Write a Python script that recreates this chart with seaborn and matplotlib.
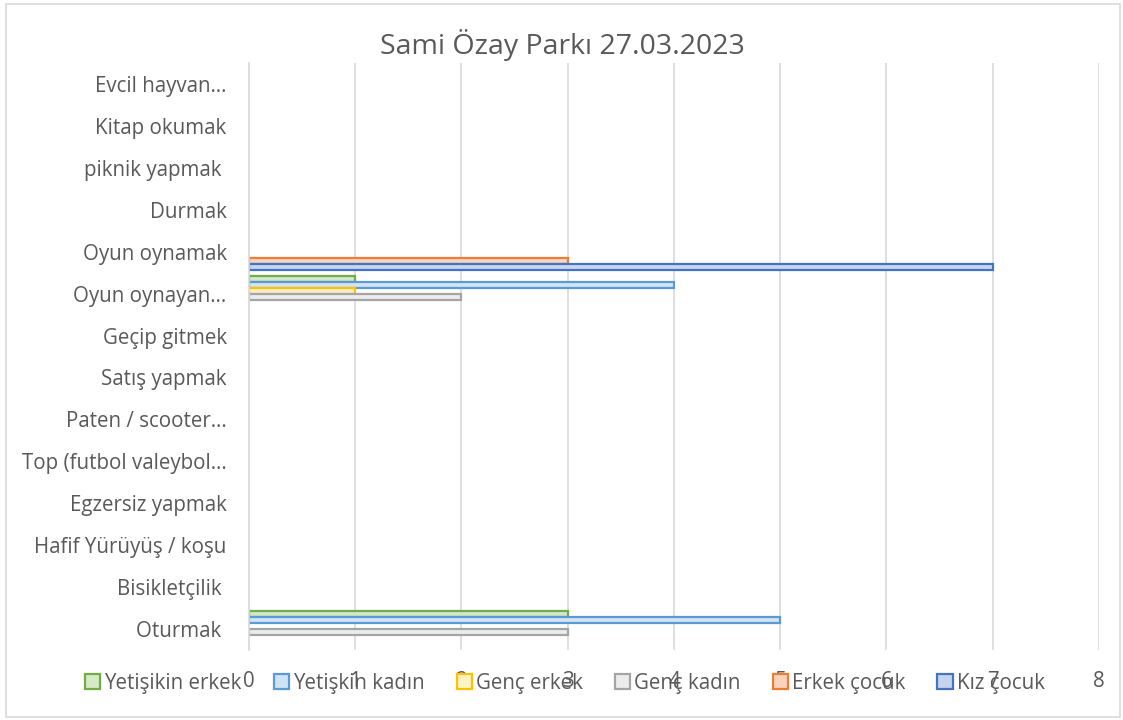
import pandas as pd
import seaborn as sns
import matplotlib.pyplot as plt
from matplotlib.patches import Patch, Rectangle

# data (top to bottom as shown on the chart)
categories = [
    "Evcil hayvan…",
    "Kitap okumak",
    "piknik yapmak ",
    "Durmak",
    "Oyun oynamak",
    "Oyun oynayan…",
    "Geçip gitmek",
    "Satış yapmak",
    "Paten / scooter…",
    "Top (futbol valeybol…",
    "Egzersiz yapmak",
    "Hafif Yürüyüş / koşu",
    "Bisikletçilik ",
    "Oturmak ",
]
groups = ["Yetişikin erkek", "Yetişkin kadın", "Genç erkek", "Genç kadın", "Erkek çocuk", "Kız çocuk"]

yetiskin_erkek = [0, 0, 0, 0, 0, 1, 0, 0, 0, 0, 0, 0, 0, 3]
yetiskin_kadin = [0, 0, 0, 0, 0, 4, 0, 0, 0, 0, 0, 0, 0, 5]
genc_erkek = [0, 0, 0, 0, 0, 1, 0, 0, 0, 0, 0, 0, 0, 0]
genc_kadin = [0, 0, 0, 0, 0, 2, 0, 0, 0, 0, 0, 0, 0, 3]
erkek_cocuk = [0, 0, 0, 0, 3, 0, 0, 0, 0, 0, 0, 0, 0, 0]
kiz_cocuk = [0, 0, 0, 0, 7, 0, 0, 0, 0, 0, 0, 0, 0, 0]

fill_colors = ["#d5ebc6", "#cfe3f5", "#fff3c4", "#ececec", "#fad3bd", "#c6d4ee"]
edge_colors = ["#70ad47", "#5b9bd5", "#ffc000", "#a5a5a5", "#ed7d31", "#4472c4"]

series = [yetiskin_erkek, yetiskin_kadin, genc_erkek, genc_kadin, erkek_cocuk, kiz_cocuk]
rows = []
for g, vals in zip(groups, series):
    for c, v in zip(categories, vals):
        if v > 0:
            rows.append({"activity": c, "group": g, "count": v})
df = pd.DataFrame(rows)

plt.rcParams["font.family"] = ["Open Sans", "DejaVu Sans"]
text_color = "#595959"

fig = plt.figure(figsize=(11.23, 7.2), dpi=100)
ax = fig.add_axes([0.2217, 0.0972, 0.7569, 0.8153])

sns.barplot(
    data=df, x="count", y="activity", hue="group",
    order=categories, hue_order=groups,
    palette=dict(zip(groups, fill_colors)),
    orient="h", width=0.86, dodge=True, ax=ax, legend=False,
)
for container, ec in zip(ax.containers, edge_colors):
    for bar in container:
        bar.set_edgecolor(ec)
        bar.set_linewidth(1.6)

ax.set_xlim(0, 8)
ax.set_xticks(range(9))
ax.set_ylim(len(categories) - 0.5, -0.5)
ax.grid(axis="x", color="#d9d9d9", linewidth=1.2)
ax.set_axisbelow(True)
for s in ["top", "right", "bottom"]:
    ax.spines[s].set_visible(False)
ax.spines["left"].set_color("#d9d9d9")
ax.spines["left"].set_linewidth(1.2)
ax.tick_params(axis="both", length=0, colors=text_color, labelsize=14.8)
ax.tick_params(axis="y", pad=16)
ax.tick_params(axis="x", pad=15)
ax.set_xlabel("")
ax.set_ylabel("")

fig.suptitle("Sami Özay Parkı 27.03.2023", x=0.501, y=0.96, fontsize=20.5, color=text_color)

handles = [Patch(facecolor=f, edgecolor=e, linewidth=1.6) for f, e in zip(fill_colors, edge_colors)]
fig.legend(
    handles, groups, loc="center", bbox_to_anchor=(0.503, 0.051), ncol=6,
    frameon=False, fontsize=14.8, labelcolor=text_color,
    handlelength=0.75, handleheight=0.75, handletextpad=0.2, columnspacing=1.55,
)

fig.patches.append(Rectangle((0.005, 0.004), 0.992, 0.99, transform=fig.transFigure,
                             fill=False, edgecolor="#d9d9d9", linewidth=1.2))

fig.savefig("out.png", dpi=100)
